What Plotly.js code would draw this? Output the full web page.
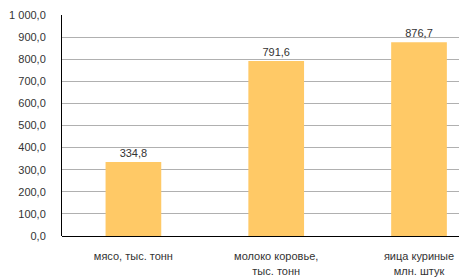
<!DOCTYPE html>
<html><head><meta charset="utf-8">
<script src="https://cdn.plot.ly/plotly-3.0.1.min.js"></script>
<style>html,body{margin:0;padding:0;background:#fff}#c{width:459px;height:279px}</style>
</head><body><div id="c"></div>
<script>
const categories = ["мясо, тыс. тонн", "молоко коровье,<br>тыс. тонн", "яица куриные<br>млн. штук"];
const values = [334.8, 791.6, 876.7];
const yTicks = [0, 100, 200, 300, 400, 500, 600, 700, 800, 900, 1000];

const trace = {
  type: 'bar',
  x: [0, 1, 2],
  y: values,
  marker: {color: '#FFC966'},
  width: 0.39,
  texttemplate: '%{y:.1f}',
  textposition: 'outside',
  textfont: {family: 'Liberation Sans, Arial, sans-serif', size: 11, color: '#333'},
  cliponaxis: false,
  hoverinfo: 'none'
};
const layout = {
  width: 459, height: 279,
  margin: {l: 62, r: 0, t: 15, b: 43},
  separators: ', ',
  showlegend: false,
  plot_bgcolor: '#fff', paper_bgcolor: '#fff',
  font: {family: 'Liberation Sans, Arial, sans-serif', size: 11, color: '#333'},
  xaxis: {
    range: [-0.5, 2.28],
    tickvals: [0, 1, 2],
    ticktext: categories,
    ticks: 'outside',
    ticklen: 10,
    tickcolor: 'rgba(0,0,0,0)',
    showgrid: false,
    zeroline: false,
    showline: false,
    tickfont: {size: 11, color: '#333'}
  },
  yaxis: {
    range: [0, 1000],
    tickvals: yTicks,
    tickformat: ',.1f',
    showgrid: true,
    gridcolor: '#b0b0b0',
    gridwidth: 1,
    zeroline: true,
    zerolinecolor: '#000',
    zerolinewidth: 1,
    showline: true,
    linecolor: '#000',
    linewidth: 1,
    ticks: 'outside',
    ticklen: 13,
    tickcolor: 'rgba(0,0,0,0)',
    tickfont: {size: 11, color: '#333'}
  },
  bargap: 0.6
};
Plotly.newPlot('c', [trace], layout, {staticPlot: true, displayModeBar: false});
</script></body></html>
